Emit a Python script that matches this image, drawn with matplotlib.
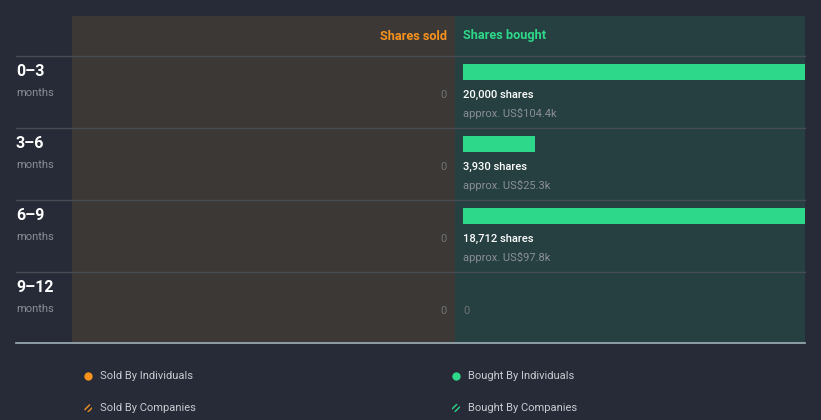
#!/usr/bin/env python3

import matplotlib
matplotlib.use('Agg')
from matplotlib import rcParams
rcParams['font.family'] = 'sans-serif'
rcParams['font.sans-serif'] = ['Roboto']
import matplotlib.pyplot as plt
import matplotlib.patches as patches

periods = ['0–3', '3–6', '6–9', '9–12']
sold_shares = [0, 0, 0, 0]
bought_shares = [20000, 3930, 18712, 0]
bought_value = ['US$104.4k', 'US$25.3k', 'US$97.8k', None]
legend_labels = ['Sold By Individuals', 'Sold By Companies',
                 'Bought By Individuals', 'Bought By Companies']

bg = '#262b37'
sold_bg = '#3c3835'
bought_bg = '#263f40'
orange = '#f7921e'
green = '#2ed88a'
grid = '#474c52'
grey = '#8a8f96'
zero_grey = '#6f7377'

W, H = 821, 420
fig = plt.figure(figsize=(W / 100, H / 100), dpi=100)
fig.patch.set_facecolor(bg)

# pixel-space background axes for panels, rules and labels
ax = fig.add_axes([0, 0, 1, 1])
ax.set_xlim(0, W)
ax.set_ylim(H, 0)
ax.axis('off')

top, header, row_h = 16, 56, 72
bottom = 343
left, mid, right = 72, 455, 805

ax.add_patch(patches.Rectangle((left, top), mid - left, bottom - top,
                               facecolor=sold_bg, lw=0))
ax.add_patch(patches.Rectangle((mid, top), right - mid, bottom - top,
                               facecolor=bought_bg, lw=0))

for i in range(len(periods)):
    y = header + i * row_h
    ax.plot([16, right], [y, y], color=grid, lw=1)
ax.plot([16, right], [bottom, bottom], color='#9fb0b8', lw=1.2)

ax.text(mid - 8, 36, 'Shares sold', color=orange, fontsize=9.2,
        fontweight='bold', ha='right', va='center')
ax.text(mid + 8, 36, 'Shares bought', color=green, fontsize=9.2,
        fontweight='bold', ha='left', va='center')

for i, p in enumerate(periods):
    y0 = header + i * row_h
    ax.text(16, y0 + 15, p, color='white', fontsize=11.5, fontweight='bold',
            ha='left', va='center')
    ax.text(16, y0 + 37, 'months', color=grey, fontsize=8,
            ha='left', va='center')
    ax.text(mid - 8, y0 + 39, f'{sold_shares[i]:,}', color=zero_grey,
            fontsize=8, ha='right', va='center')
    if bought_shares[i] > 0:
        ax.text(mid + 8, y0 + 39, f'{bought_shares[i]:,} shares',
                color='white', fontsize=8, fontweight='medium',
                ha='left', va='center')
        ax.text(mid + 8, y0 + 57, 'approx. ' + bought_value[i], color=grey,
                fontsize=8, ha='left', va='center')
    else:
        ax.text(mid + 8, y0 + 39, '0', color=zero_grey, fontsize=8,
                ha='left', va='center')

# bars for bought shares
bx0, bx1 = mid + 8, right
bar_ax = fig.add_axes([bx0 / W, 1 - bottom / H, (bx1 - bx0) / W,
                       (bottom - header) / H])
bar_ax.set_xlim(0, 18668)
nrows = (bottom - header) / row_h
bar_ax.set_ylim(nrows, 0)
bar_ax.axis('off')
bar_ax.patch.set_visible(False)
ypos = [i + 16 / row_h for i in range(len(periods))]
bar_ax.barh(ypos, bought_shares, height=16 / row_h, left=0,
            color=green, lw=0)

# legend
ly = [376, 408]
for col, (lx, c) in enumerate([(88, orange), (456, green)]):
    ax.scatter([lx], [ly[0]], s=36, color=c, lw=0)
    hatch = patches.Circle((lx, ly[1]), 4, facecolor='none', edgecolor=c,
                           hatch='//////', lw=0)
    ax.add_patch(hatch)
    ax.text(lx + 12, ly[0], legend_labels[col * 2], color='#c8ccd2',
            fontsize=8, ha='left', va='center')
    ax.text(lx + 12, ly[1], legend_labels[col * 2 + 1], color='#c8ccd2',
            fontsize=8, ha='left', va='center')

plt.savefig('out.png', dpi=100, facecolor=bg)
